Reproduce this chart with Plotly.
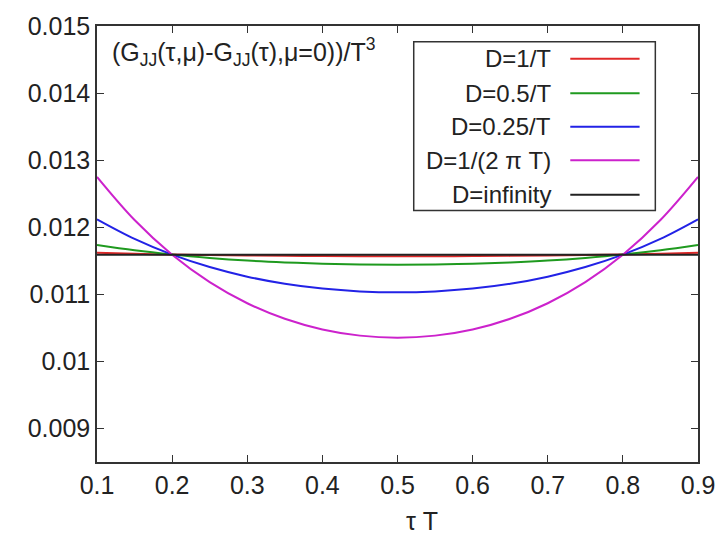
import plotly.graph_objects as go

tau = [0.10, 0.15, 0.20, 0.25, 0.30, 0.35, 0.40, 0.45, 0.50,
       0.55, 0.60, 0.65, 0.70, 0.75, 0.80, 0.85, 0.90]

g_d1 = [0.011618, 0.011604, 0.011593, 0.011585, 0.011578, 0.011573, 0.011570, 0.011568, 0.011567,
        0.011568, 0.011570, 0.011573, 0.011578, 0.011585, 0.011593, 0.011604, 0.011618]
g_d05 = [0.011735, 0.011656, 0.011593, 0.011543, 0.011504, 0.011476, 0.011456, 0.011445, 0.011441,
         0.011445, 0.011456, 0.011476, 0.011504, 0.011543, 0.011593, 0.011656, 0.011735]
g_d025 = [0.012118, 0.011826, 0.011591, 0.011406, 0.011263, 0.011157, 0.011085, 0.011043, 0.011029,
          0.011043, 0.011085, 0.011157, 0.011263, 0.011406, 0.011591, 0.011826, 0.012118]
g_d2pi = [0.012750, 0.012107, 0.011590, 0.011182, 0.010867, 0.010635, 0.010476, 0.010384, 0.010353,
          0.010384, 0.010476, 0.010635, 0.010867, 0.011182, 0.011590, 0.012107, 0.012750]
g_inf = [0.011590] * 17

names = ["D=1/T", "D=0.5/T", "D=0.25/T", "D=1/(2 π T)", "D=infinity"]
series = [g_d1, g_d05, g_d025, g_d2pi, g_inf]
colors = ["#e02828", "#1f9a1f", "#2222e6", "#cc22cc", "#222222"]

FONT = "Liberation Sans, Arial, Helvetica, sans-serif"

fig = go.Figure()
for name, ys, c in zip(names, series, colors):
    fig.add_trace(go.Scatter(x=tau, y=ys, mode="lines", name=name,
                             line=dict(color=c, width=2, shape="spline"),
                             showlegend=False))

fig.update_layout(
    width=727, height=538,
    margin=dict(l=97, r=23, t=20, b=76),
    paper_bgcolor="white", plot_bgcolor="white",
    font=dict(family=FONT, size=25, color="#222222"),
)
axis_common = dict(showline=True, linecolor="#333333", linewidth=1.5, mirror="ticks",
                   ticks="inside", ticklen=7, tickcolor="#333333", tickwidth=1.2,
                   showgrid=False, zeroline=False,
                   tickfont=dict(family=FONT, size=25, color="#222222"))
fig.update_xaxes(range=[0.1, 0.9], tick0=0.1, dtick=0.1, tickformat=".1f", **axis_common)
fig.update_yaxes(range=[0.0085, 0.015], tick0=0.009, dtick=0.001, **axis_common)

# title text inside the plot
fig.add_annotation(x=0.021, y=0.94, xref="paper", yref="paper", xanchor="left", yanchor="middle",
                   text="(G<sub>JJ</sub>(τ,μ)-G<sub>JJ</sub>(τ),μ=0))/T<sup>3</sup>",
                   showarrow=False, font=dict(family=FONT, size=25, color="#222222"))

# x-axis label
fig.add_annotation(x=(425 - 97) / 607, y=-0.135, xref="paper", yref="paper",
                   xanchor="center", yanchor="middle", text="τ T", showarrow=False,
                   font=dict(family=FONT, size=25, color="#222222"))

# manual legend (text then line sample, as in the reference)
fig.add_shape(type="rect", xref="paper", yref="paper", x0=0.527, x1=0.929, y0=0.577, y1=0.9638,
              line=dict(color="#333333", width=1.5), fillcolor="white", layer="above")
row_y = [0.925, 0.846, 0.769, 0.692, 0.613]
for name, c, yy in zip(names, colors, row_y):
    fig.add_annotation(x=0.758, y=yy, xref="paper", yref="paper", xanchor="right", yanchor="middle",
                       text=name, showarrow=False, font=dict(family=FONT, size=24, color="#222222"))
    fig.add_shape(type="line", xref="paper", yref="paper", x0=0.7875, x1=0.9028, y0=yy, y1=yy,
                  line=dict(color=c, width=2), layer="above")

fig.write_html("out.html")
